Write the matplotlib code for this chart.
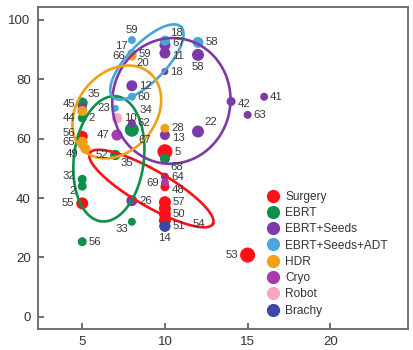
import numpy as np
import matplotlib
matplotlib.use("Agg")
import matplotlib.pyplot as plt
from matplotlib.lines import Line2D

plt.rcParams['font.family'] = ['Liberation Sans', 'DejaVu Sans']

# treatment groups: x, y, point labels, marker diameter (px), label placement
groups = ['Surgery', 'EBRT', 'EBRT+Seeds', 'EBRT+Seeds+ADT', 'HDR', 'Cryo', 'Robot', 'Brachy']
colors = ['#ff0f16', '#0e8f4a', '#7b3aa8', '#4aa5d8', '#f0a018', '#a83aae', '#f7a5c4', '#3a48a8']

surgery_x = [5, 5, 10, 10, 10, 10, 10, 10, 15]
surgery_y = [38.2, 60.8, 55.6, 43.8, 38.6, 36.5, 34.6, 32.4, 20.8]
surgery_lab = ['55', '56', '5', '48', '57', '', '50', '54', '53']
surgery_d = [12, 11, 15, 9, 12, 12, 12, 12, 15]
surgery_pos = ['l', 'lu', 'r', 'rd', 'r', 'r', 'r', 'rr', 'l']

ebrt_x = [5, 5, 5, 8, 7, 7, 5, 5, 8, 10]
ebrt_y = [25.3, 46.3, 44.0, 32.0, 54.5, 54.5, 72.0, 67.0, 63.0, 53.2]
ebrt_lab = ['56', '32', '2', '33', '52', '35', '35', '2', '67', '68']
ebrt_d = [9, 9, 9, 8, 10, 10, 11, 9, 14, 10]
ebrt_pos = ['r', 'lu', 'ld', 'dl', 'l', 'dr', 'ur', 'r', 'dr', 'dr']

seeds_x = [8, 8, 5, 10, 10, 10, 12, 14, 16, 15, 12, 10, 10, 8]
seeds_y = [77.8, 65.2, 70.5, 91.5, 88.8, 82.6, 88.2, 72.5, 74.1, 68.0, 62.4, 61.2, 47.2, 39.1]
seeds_lab = ['12', '62', '45', '67', '11', '18', '58', '42', '41', '63', '22', '13', '64', '26']
seeds_d = [11, 8, 9, 11, 11, 7, 12, 9, 8, 8, 12, 10, 8, 11]
seeds_pos = ['r', 'r', 'lu', 'ru', 'rd', 'r', 'd', 'rd', 'r', 'r', 'ur', 'rd', 'r', 'r']

adt_x = [8, 8, 7, 10, 12, 8]
adt_y = [93.2, 74.1, 70.2, 93.0, 92.4, 88.6]
adt_lab = ['59', '60', '23', '18', '58', '17']
adt_d = [8, 8, 7, 10, 11, 9]
adt_pos = ['u', 'r', 'l', 'ur', 'r', 'ul']

hdr_x = [8, 8, 8, 5, 5, 5.2, 10]
hdr_y = [87.9, 87.9, 87.9, 69.3, 58.8, 56.5, 63.5]
hdr_lab = ['66', '59', '20', '44', '65', '49', '28']
hdr_d = [9, 9, 9, 10, 11, 10, 9]
hdr_pos = ['l', 'ru', 'dr', 'ldd', 'l', 'ld', 'r']

cryo_x = [7.1, 10]
cryo_y = [61.2, 45.2]
cryo_lab = ['47', '69']
cryo_d = [11, 8]
cryo_pos = ['l', 'l']

robot_x = [7.1, 7.1]
robot_y = [66.9, 66.9]
robot_lab = ['10', '34']
robot_d = [10, 10]
robot_pos = ['r', 'far']

brachy_x = [10, 10]
brachy_y = [30.5, 30.5]
brachy_lab = ['51', '14']
brachy_d = [11, 11]
brachy_pos = ['r', 'd']

series = [
    (surgery_x, surgery_y, surgery_lab, surgery_d, surgery_pos),
    (ebrt_x, ebrt_y, ebrt_lab, ebrt_d, ebrt_pos),
    (seeds_x, seeds_y, seeds_lab, seeds_d, seeds_pos),
    (adt_x, adt_y, adt_lab, adt_d, adt_pos),
    (hdr_x, hdr_y, hdr_lab, hdr_d, hdr_pos),
    (cryo_x, cryo_y, cryo_lab, cryo_d, cryo_pos),
    (robot_x, robot_y, robot_lab, robot_d, robot_pos),
    (brachy_x, brachy_y, brachy_lab, brachy_d, brachy_pos),
]

# group ellipses: center (data), semi axes (px), angle (deg on screen)
ellipses = [
    ('#ff0f16', (9.18, 43.2), 71, 18, -30),
    ('#0e8f4a', (6.61, 53.2), 63, 35, 83),
    ('#7b3aa8', (10.39, 72.7), 63, 59, 80),
    ('#4aa5d8', (8.91, 85.8), 49, 19, 46),
    ('#f0a018', (7.09, 69.0), 51, 39, 50),
]

PT = 0.72  # points per pixel at 100 dpi


def label_offset(pos, r):
    table = {
        'r': (r + 2, 0, 'left', 'center'),
        'ru': (r + 2, 2, 'left', 'center'),
        'rd': (r + 2, -3, 'left', 'center'),
        'l': (-(r + 2), 0, 'right', 'center'),
        'lu': (-(r + 2), 3, 'right', 'center'),
        'ld': (-(r + 2), -5, 'right', 'center'),
        'ldd': (-(r + 2), -7, 'right', 'center'),
        'u': (0, r + 1, 'center', 'bottom'),
        'd': (0, -(r + 1), 'center', 'top'),
        'ur': (r, r - 2, 'left', 'bottom'),
        'ul': (-r, r - 2, 'right', 'bottom'),
        'dr': (r, -(r - 2), 'left', 'top'),
        'dl': (-r, -(r - 2), 'right', 'top'),
        'rr': (r + 22, -3, 'left', 'center'),
        'far': (r + 18, 8, 'left', 'center'),
    }
    dx, dy, ha, va = table[pos]
    return dx * PT, dy * PT, ha, va


def main():
    fig = plt.figure(figsize=(4.13, 3.5), dpi=100)
    ax = fig.add_axes([0.091, 0.06, 0.897, 0.919])
    ax.set_xlim(2.3, 24.7)
    ax.set_ylim(-4.1, 104.2)

    for (xs, ys, labs, ds, poss), c in zip(series, colors):
        s = [(d * PT) ** 2 for d in ds]
        ax.scatter(xs, ys, s=s, color=c, edgecolors='none', zorder=2)

    # ellipses drawn in screen space so tilt matches the picture
    t = np.linspace(0, 2 * np.pi, 200)
    for c, cen, a, b, ang in ellipses:
        cx, cy = ax.transData.transform(cen)
        th = np.deg2rad(ang)
        px = cx + a * np.cos(t) * np.cos(th) - b * np.sin(t) * np.sin(th)
        py = cy + a * np.cos(t) * np.sin(th) + b * np.sin(t) * np.cos(th)
        pts = ax.transData.inverted().transform(np.column_stack([px, py]))
        ax.plot(pts[:, 0], pts[:, 1], color=c, lw=1.9, zorder=3)

    for xs, ys, labs, ds, poss in series:
        for x, y, lab, d, pos in zip(xs, ys, labs, ds, poss):
            if not lab:
                continue
            dx, dy, ha, va = label_offset(pos, d / 2)
            ax.annotate(lab, (x, y), xytext=(dx, dy), textcoords='offset points',
                        ha=ha, va=va, fontsize=8.2, color='#3a3a3a', zorder=4)

    ax.set_xticks([5, 10, 15, 20])
    ax.set_yticks([0, 20, 40, 60, 80, 100])
    ax.tick_params(direction='in', length=4.5, width=1.2, color='#555555',
                   labelsize=9.5, labelcolor='#333333', pad=5)
    for sp in ax.spines.values():
        sp.set_color('#666666')
        sp.set_linewidth(1.3)

    handles = [Line2D([], [], marker='o', ls='none', color=c, markersize=8.5) for c in colors]
    ax.legend(handles, groups, loc='upper left', bbox_to_anchor=(0.618, 0.430),
              frameon=False, borderpad=0, handlelength=1.0,
              handletextpad=0.55, labelspacing=0.36, borderaxespad=0,
              labelcolor='#333333', fontsize=8.6)

    fig.savefig('out.png', dpi=100)


if __name__ == '__main__':
    main()
